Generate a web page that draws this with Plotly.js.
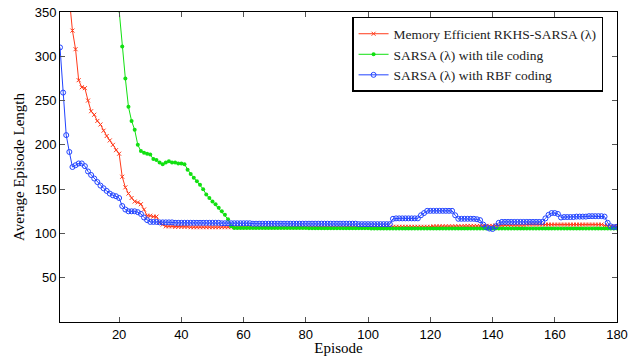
<!DOCTYPE html>
<html>
<head>
<meta charset="utf-8">
<script src="https://cdn.plot.ly/plotly-3.0.1.min.js"></script>
<style>html,body{margin:0;padding:0;background:#fff;}#chart{width:630px;height:356px;}</style>
</head>
<body>
<div id="chart"></div>
<script>
const episodes = Array.from({length: 180}, (_, i) => i + 1);

const rkhsSarsa = [
  620,520,440,365,329,308,273,265,264,250,
  238,234,227,223,216,210,205,200,194,190,
  164,152,145,140,136,135,133,127,120,120,
  119,119,112,110,108,108,108,107.5,107.5,107.5,
  107.5,107.5,107,107,107,107,107,107,107,107,
  107,107,107,107,107,107,107,107,107,107,
  107,107,107,107,107,107,107,107,107,107,
  107,107,107,107,107,107,107,107,107,107,
  107,107,107,107,107,107,107,107,107,107,
  107,107,107,107,107,107,107,107,107,107,
  107,107,107.5,107.5,107.5,107.5,107.5,107.5,107.5,107.5,
  107.5,107.5,107.5,107.5,107.5,107.5,107.5,107.5,107.5,107.5,
  108,108,108,108,108,108,108,108,108,108,
  108.5,108.5,108.5,108.5,108.5,108.5,108.5,108.5,108.5,108.5,
  109,109,109,109.5,109.5,109.5,109.5,109.5,109.5,109.5,
  110,110,110,110,110,110,110,110,110,110,
  110,110,110,110,110,110,110,110,110,110,
  110,110,110,110,110,109,108.5,108,108,108
];

const tileSarsa = [
  980,950,920,890,860,830,800,770,740,700,
  660,620,580,540,500,470,440,410,385,352,
  311,275,243,227,217,200,193,191,190,189,
  184,183,180,178,180,181.5,180,180,179,179,
  178,172,167,163,159,155,150,144,140,136,
  133,129,125,121,116,108,106,106,106,106,
  106,106,106,106,106,106,106,106,106,106,
  106,106,106,106,106,106,106,106,106,106,
  105.8,105.8,105.8,105.8,105.8,105.8,105.8,105.8,105.8,105.8,
  105.8,105.8,105.8,105.8,105.8,105.8,105.8,105.8,105.8,105.8,
  105.5,105.5,105.5,105.5,105.5,105.5,105.5,105.5,105.5,105.5,
  105.5,105.5,105.5,105.5,105.5,105.5,105.5,105.5,105.5,105.5,
  105.5,105.5,105.5,105.5,105.5,105.5,105.5,105.5,105.5,105.5,
  105.5,105.5,105.5,105.5,105.5,105.5,105.5,105.5,105.5,105.5,
  105.5,105.5,105.5,105.5,105.5,105.5,105.5,105.5,105.5,105.5,
  105.5,105.5,105.5,105.5,105.5,105.5,105.5,105.5,105.5,105.5,
  105.5,105.5,105.5,105.5,105.5,105.5,105.5,105.5,105.5,105.5,
  105.5,105.5,105.5,105.5,105.5,105.5,105.5,105.5,105.5,105.5
];

const rbfSarsa = [
  310,259,211,192,175,177,179,179,176,170,
  166,162,158,154,151,148,145,143,142,140,
  131,127,125,125,125,124,122,118,115,113,
  113,113,112.5,112.5,112.5,112.5,112.5,112,112,112,
  112,112,112,112,112,112,112,112,112,112,
  112,112,111.5,111.5,111.5,111.5,111.5,111.5,111.5,111.5,
  111.5,111.5,111,111,111,111,111,111,111,111,
  111,111,111,111,111,111,111,111,111,111,
  111,111,111,111,111,111,111,111,111,111,
  111,111,111,111,111,111,110.5,110.5,110.5,110.5,
  110.5,110.5,110.5,110.5,110.5,110.5,110.5,116.5,117,117,
  117,117,117,117,117,117,120.5,123,125.5,125.5,
  125.5,125.5,125.5,125.5,125.5,125.5,125.5,120.5,116.5,116.5,
  116.5,116.5,116.5,116.5,116,115,110,107,105.5,105,
  108,112,113,113,113,113,113,113,113,113,
  113,113,113,113,113,113,117,121,123,123,
  122,118,118.5,118.5,118.5,118.5,119,119,119,119,
  119.5,119.5,119.5,119.5,119.5,119,112,108,107,107.5
];

const seriesNames = [
  'Memory Efficient RKHS-SARSA (λ)',
  'SARSA (λ) with tile coding',
  'SARSA (λ) with RBF coding'
];
const xTicks = [20, 40, 60, 80, 100, 120, 140, 160, 180];
const yTicks = [50, 100, 150, 200, 250, 300, 350];

const red = '#ff3a1a', green = '#11e011', blue = '#2244ff';

const traces = [
  {x: episodes, y: rkhsSarsa, name: seriesNames[0], type: 'scatter', mode: 'lines+markers',
   line: {color: red, width: 1},
   marker: {symbol: 'x-thin', size: 4, color: red, line: {color: red, width: 1}}},
  {x: episodes, y: tileSarsa, name: seriesNames[1], type: 'scatter', mode: 'lines+markers',
   line: {color: green, width: 1},
   marker: {symbol: 'circle', size: 4, color: green}},
  {x: episodes, y: rbfSarsa, name: seriesNames[2], type: 'scatter', mode: 'lines+markers',
   line: {color: blue, width: 1},
   marker: {symbol: 'circle-open', size: 5, color: blue, line: {color: blue, width: 1}}}
];

const axisCommon = {
  showline: true, linecolor: '#000', linewidth: 1, mirror: 'ticks',
  ticks: 'inside', ticklen: 5, tickcolor: '#555', tickwidth: 1,
  showgrid: false, zeroline: false,
  tickfont: {family: 'Liberation Sans, Arial, sans-serif', size: 13, color: '#000'}
};

const layout = {
  width: 630, height: 356,
  margin: {l: 60, r: 13, t: 12, b: 34},
  paper_bgcolor: '#fff', plot_bgcolor: '#fff',
  showlegend: true,
  xaxis: Object.assign({}, axisCommon, {
    range: [1, 180], tickvals: xTicks, ticktext: xTicks.map(String),
    title: {text: 'Episode', font: {family: 'Liberation Serif, DejaVu Serif, serif', size: 15, color: '#000'}, standoff: 2}
  }),
  yaxis: Object.assign({}, axisCommon, {
    range: [0, 350], tickvals: yTicks, ticktext: yTicks.map(String),
    title: {text: 'Average Episode Length', font: {family: 'Liberation Serif, DejaVu Serif, serif', size: 15, color: '#000'}, standoff: 6}
  }),
  legend: {
    x: 0.975, xanchor: 'right', y: 0.984, yanchor: 'top',
    bgcolor: '#fff', bordercolor: '#000', borderwidth: 1.5,
    font: {family: 'Liberation Serif, DejaVu Serif, serif', size: 13.5, color: '#222'},
    tracegroupgap: 0, itemwidth: 30
  }
};

Plotly.newPlot('chart', traces, layout, {displayModeBar: false, staticPlot: true});
</script>
</body>
</html>
